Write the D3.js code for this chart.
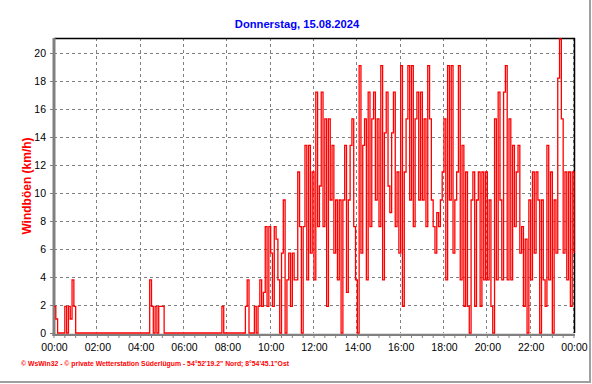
<!DOCTYPE html>
<html><head><meta charset="utf-8">
<script src="https://cdn.jsdelivr.net/npm/d3@7/dist/d3.min.js"></script>
<style>
body{margin:0;background:#fff}
svg{display:block}
text{font-family:Arial,"Liberation Sans",sans-serif}
</style>
</head><body>
<svg id="c" width="592" height="384"></svg>
<script>
const chartTitle = "Donnerstag, 15.08.2024";
const yTitle = "Windböen (km/h)";
const footer = "\u00A9 WsWin32  -  \u00A9 private Wetterstation Süderlügum  -  54°52'19.2\" Nord; 8°54'45.1\"Ost";
const stepMinutes = 5;
// gust values (km/h), one every 5 minutes from 00:00 to 24:00
const gusts = [
1.9,1.0,0,0,0,0,1.9,0,1.9,1.0,3.8,1.9,
0,0,0,0,0,0,0,0,0,0,0,0,
0,0,0,0,0,0,0,0,0,0,0,0,
0,0,0,0,0,0,0,0,0,0,0,0,
0,0,0,0,0,3.8,1.9,0,1.9,0,1.9,1.9,
1.9,0,0,0,0,0,0,0,0,0,0,0,
0,0,0,0,0,0,0,0,0,0,0,0,
0,0,0,0,0,0,0,0,0,1.9,0,0,
0,0,0,0,0,0,0,0,0,0,1.9,3.8,
0,0,0,1.9,0,1.9,3.8,1.9,2.9,7.6,1.9,7.6,
5.7,1.9,7.6,6.7,3.8,0,5.7,9.5,0,3.8,5.7,1.9,
5.7,3.8,3.8,11.5,7.6,0,7.6,13.4,3.8,13.4,5.7,11.5,
3.8,17.2,7.6,10.5,17.2,7.6,15.3,1.9,15.3,9.5,13.4,5.7,
9.5,3.8,9.5,0,9.5,13.4,2.9,9.5,13.4,15.3,7.6,3.8,
0,19.1,5.7,13.4,15.3,3.8,17.2,7.6,15.3,17.2,9.5,15.3,
7.6,19.1,3.8,14.3,17.2,10.5,8.6,14.3,17.2,7.6,11.5,5.7,
19.1,1.9,11.5,15.3,19.1,9.5,19.1,7.6,15.3,17.2,9.5,17.2,
9.5,15.3,7.6,19.1,15.3,9.5,7.6,5.7,8.6,7.6,9.5,11.5,
15.3,3.8,19.1,9.5,19.1,5.7,9.5,11.5,19.1,3.8,13.4,1.9,
11.5,1.9,0,9.5,11.5,1.9,9.5,11.5,1.9,11.5,3.8,11.5,
3.8,9.5,1.9,0,15.3,3.8,17.2,9.5,3.8,17.2,19.1,3.8,
15.3,3.8,13.4,7.6,11.5,13.4,5.7,7.6,1.9,6.7,0,9.5,
3.8,11.5,5.7,11.5,9.5,0,9.5,3.8,1.9,13.4,3.8,11.5,
0,9.5,5.7,18.2,21.0,15.3,5.7,11.5,3.8,11.5,1.9,11.5,
5.7
];
const yTicks = [0,2,4,6,8,10,12,14,16,18,20];
const xTickHours = [0,2,4,6,8,10,12,14,16,18,20,22,24];
const xTickLabels = ["00:00","02:00","04:00","06:00","08:00","10:00","12:00","14:00","16:00","18:00","20:00","22:00","00:00"];
const xMinorHours = d3.range(0, 24.01, 0.5);

const svg = d3.select("#c");
const L = 54, R = 574, T = 38, B = 333;
const x = d3.scaleLinear().domain([0,24]).range([L,R]);
const y = d3.scaleLinear().domain([0,21]).range([B, B-21*14]);

// outer panel edge
svg.append("line").attr("x1",590).attr("x2",590).attr("y1",0).attr("y2",383).attr("stroke","#a0a0a0").attr("stroke-width",2);
svg.append("line").attr("x1",0).attr("x2",591).attr("y1",382).attr("y2",382).attr("stroke","#a0a0a0").attr("stroke-width",2);

// title
svg.append("text").attr("x",297).attr("y",28).attr("text-anchor","middle")
  .attr("font-size",11.2).attr("font-weight","bold").attr("fill","#0000ff").text(chartTitle);

// grid
const grid = svg.append("g");
grid.selectAll("line.h").data(yTicks.filter(d=>d>0)).join("line")
  .attr("x1",L).attr("x2",R).attr("y1",d=>y(d)+0.5).attr("y2",d=>y(d)+0.5)
  .attr("stroke","#808080").attr("stroke-dasharray","3,3");
grid.selectAll("line.v").data(xTickHours.filter(d=>d>0)).join("line")
  .attr("x1",d=>Math.round(x(d))-0.5).attr("x2",d=>Math.round(x(d))-0.5).attr("y1",T).attr("y2",B)
  .attr("stroke","#808080").attr("stroke-dasharray","3,3");

// frame top and right
svg.append("line").attr("x1",L).attr("x2",R+1).attr("y1",T+0.5).attr("y2",T+0.5).attr("stroke","#000").attr("stroke-width",1.5);
svg.append("line").attr("x1",R+0.5).attr("x2",R+0.5).attr("y1",T).attr("y2",B).attr("stroke","#000").attr("stroke-width",1.5);

// axis lines (under data)
svg.append("g").selectAll("line").data(xMinorHours).join("line")
  .attr("x1",d=>x(d)).attr("x2",d=>x(d)).attr("y1",B+1).attr("y2",B+5)
  .attr("stroke","#808080").attr("stroke-width",1);
svg.append("line").attr("x1",L-1.5).attr("x2",R+1).attr("y1",B+1.8).attr("y2",B+1.8).attr("stroke","#808080").attr("stroke-width",2.2);
svg.append("line").attr("x1",L).attr("x2",L).attr("y1",T).attr("y2",B+3).attr("stroke","#808080").attr("stroke-width",3);

// data line
const line = d3.line().curve(d3.curveStepAfter).x((d,i)=>x(i*stepMinutes/60)).y(d=>y(d));
svg.append("path").datum(gusts).attr("d",line).attr("fill","none")
  .attr("stroke","#ff0000").attr("stroke-width",1.3);

// y axis
const yAxis = d3.axisLeft(y).tickValues(yTicks).tickSize(3).tickPadding(4).tickFormat(d3.format("d"));
const gy = svg.append("g").attr("transform",`translate(${L-1},0)`).call(yAxis);
gy.select(".domain").remove();
gy.selectAll(".tick line").attr("stroke","#808080");
gy.selectAll(".tick text").attr("font-size",10.5).attr("fill","#000").attr("font-family","Arial, 'Liberation Sans', sans-serif");

// x axis
const xAxis = d3.axisBottom(x).tickValues(xTickHours).tickSize(0).tickPadding(11).tickFormat((d,i)=>xTickLabels[i]);
const gx = svg.append("g").attr("transform",`translate(0,${B})`).call(xAxis);
gx.select(".domain").remove();
gx.selectAll(".tick text").attr("font-size",10.5).attr("fill","#000").attr("font-family","Arial, 'Liberation Sans', sans-serif");

// y title
svg.append("text").attr("transform",`translate(31,186) rotate(-90)`).attr("text-anchor","middle")
  .attr("font-size",12).attr("font-weight","bold").attr("fill","#ff0000").text(yTitle);

// footer
svg.append("text").attr("x",21).attr("y",366).attr("font-size",7).attr("font-weight","bold")
  .attr("fill","#ff0000").attr("textLength",268).attr("lengthAdjust","spacingAndGlyphs").text(footer);
</script>
</body></html>
